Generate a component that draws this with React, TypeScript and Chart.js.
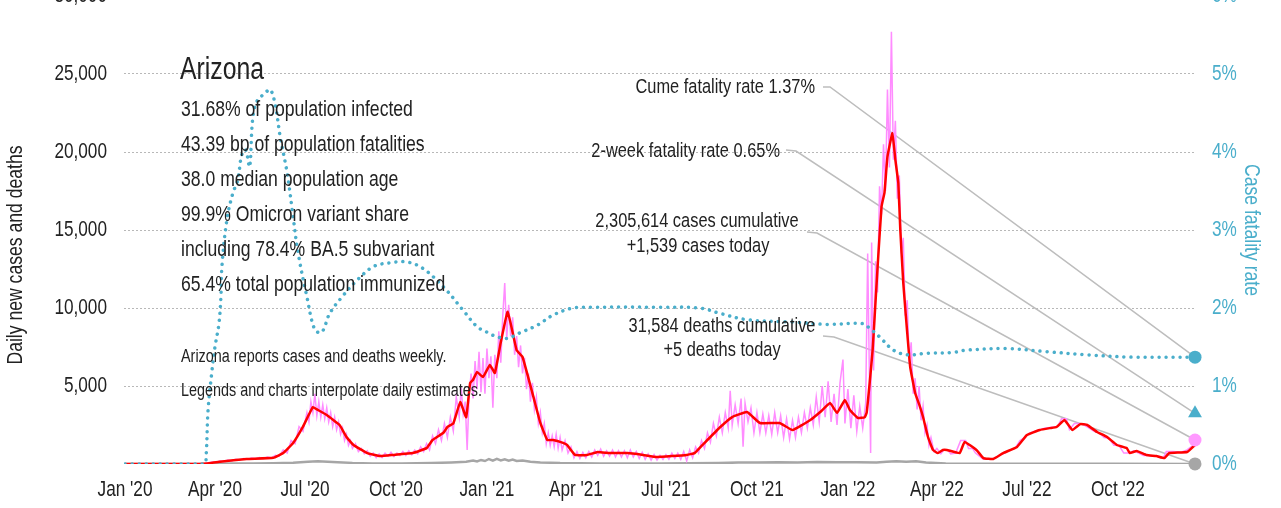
import React, { useEffect, useRef } from "react";
import { Chart, registerables } from "chart.js";
Chart.register(...registerables);

const FONT = "'Liberation Sans', Arial, sans-serif";
const SQUEEZE = 0.8; // horizontal condensing of text
const TEAL = "#4aaecb";
const RED = "#ff0000";
const PINK = "#ff8cff";
const GRAY = "#a6a6a6";
const TEXT = "#222222";
const OFF = 20; // canvas sits 20px above the page top

// x positions are days since 1 Jan 2020
const xTickDays = [0, 91, 182, 274, 366, 456, 547, 639, 731, 821, 912, 1004];
const xTickLabels = ["Jan '20", "Apr '20", "Jul '20", "Oct '20", "Jan '21", "Apr '21", "Jul '21", "Oct '21", "Jan '22", "Apr '22", "Jul '22", "Oct '22"];
const lastDay = 1082;

// 7-day average of new cases
const avgCases: [number, number][] = [[0,0],[75,0],[83,30],[96,150],[123,320],[150,400],[160,700],[170,1350],[180,2400],[190,3650],[194,3500],[204,3140],[217,2500],[224,1730],[231,1220],[245,700],[258,510],[271,580],[291,700],[305,1020],[311,1540],[322,2000],[326,2370],[332,2600],[339,3970],[345,3000],[349,5190],[352,5400],[356,5900],[362,5580],[369,6350],[374,5830],[380,7800],[387,9760],[396,7300],[402,6860],[413,4300],[420,2630],[427,1540],[433,1540],[443,1350],[447,1220],[455,580],[467,580],[478,770],[490,700],[508,700],[524,580],[538,450],[568,580],[576,700],[584,1220],[602,2370],[614,3010],[629,3330],[642,2630],[662,2630],[675,2180],[693,2820],[703,3330],[713,3910],[720,3270],[728,4100],[733,3460],[741,2950],[748,3000],[750,3300],[753,5190],[756,7300],[761,12600],[765,16500],[768,17400],[771,19700],[776,21200],[779,19500],[782,18000],[784,15000],[787,11600],[791,8400],[794,6220],[799,4550],[804,3650],[807,3010],[812,1730],[817,900],[822,700],[827,900],[831,900],[844,700],[849,1410],[861,900],[868,380],[878,320],[888,700],[902,1090],[912,1860],[925,2180],[935,2300],[942,2370],[950,2820],[958,2180],[966,2560],[973,2500],[983,2050],[993,1730],[1003,1220],[1013,1020],[1016,700],[1023,830],[1033,580],[1043,510],[1051,380],[1056,700],[1074,770],[1082,1220]];

// daily reported / interpolated new cases
const rawCases: [number, number][] = [[0,0],[80,0],[84,60],[88,120],[92,90],[96,200],[100,150],[104,250],[108,200],[112,300],[116,260],[120,350],[124,300],[128,380],[132,340],[136,420],[140,360],[144,450],[148,380],[152,550],[156,500],[160,900],[164,700],[168,1500],[172,1300],[176,2400],[180,2100],[184,3300],[186,2700],[188,4000],[190,3300],[192,4500],[194,3100],[196,4000],[198,3000],[200,3800],[202,2900],[204,3600],[206,2700],[208,3300],[210,2400],[212,3000],[214,2200],[216,2700],[218,1900],[220,2300],[222,1500],[224,1900],[226,1200],[228,1500],[230,1000],[233,1300],[236,800],[239,1000],[242,650],[245,850],[248,500],[251,700],[254,400],[257,650],[260,420],[263,700],[266,500],[269,750],[272,480],[275,700],[278,550],[281,800],[284,550],[287,850],[290,600],[293,900],[296,650],[299,1100],[302,800],[305,1300],[308,900],[311,1800],[314,1300],[317,2200],[320,1500],[323,2600],[326,1700],[329,3000],[332,2100],[335,4300],[338,3000],[340,4900],[342,3200],[344,4000],[346,900],[348,4500],[350,5800],[352,4200],[354,6600],[356,4800],[358,7200],[360,4600],[362,6800],[364,4500],[366,7400],[368,5500],[370,6900],[372,3600],[374,7000],[376,5500],[378,8500],[380,6500],[382,9500],[384,11600],[386,8000],[388,10200],[390,8200],[392,9400],[394,7000],[396,8200],[398,6200],[400,7600],[402,5800],[404,6800],[406,4800],[408,5800],[410,4000],[412,5200],[414,3500],[416,4300],[418,2600],[420,3300],[422,2000],[424,2600],[426,1300],[428,2000],[430,1200],[432,1800],[434,1100],[436,1900],[438,1000],[440,1700],[442,900],[445,1500],[448,700],[451,1100],[454,400],[457,800],[460,350],[463,750],[466,400],[469,800],[472,450],[475,900],[478,550],[481,950],[484,500],[487,850],[490,500],[493,900],[496,450],[499,850],[502,450],[505,850],[508,400],[511,900],[514,450],[517,800],[520,350],[523,750],[526,300],[529,650],[532,250],[535,600],[538,250],[541,550],[544,300],[547,600],[550,300],[553,700],[556,350],[559,700],[562,300],[565,800],[568,200],[571,900],[574,400],[577,1100],[580,700],[583,1500],[586,1000],[589,2000],[592,1400],[595,2600],[598,1800],[601,3000],[604,2000],[607,3300],[610,2300],[612,4700],[614,2500],[617,3800],[620,2600],[623,4200],[625,1100],[627,3900],[630,2700],[633,3600],[636,2000],[639,3300],[642,2000],[645,3200],[648,2000],[651,3100],[654,1900],[657,3300],[660,2000],[663,3100],[666,1700],[669,2900],[672,1600],[675,2800],[678,1700],[681,3000],[684,2000],[687,3300],[690,2300],[693,3600],[696,2500],[699,4300],[702,2700],[705,5000],[708,3000],[711,5300],[714,2700],[717,4500],[720,2500],[723,5200],[726,6700],[728,2600],[731,4800],[734,2300],[737,4400],[740,2100],[743,3700],[746,2300],[749,3900],[751,13500],[753,4500],[754,700],[755,14200],[757,6000],[759,13000],[761,11000],[763,17800],[765,16000],[767,20500],[769,17500],[771,24000],[773,19000],[775,27700],[777,19500],[779,22000],[781,17000],[783,18500],[785,13500],[787,14500],[789,9500],[791,10500],[793,6500],[795,7800],[797,4500],[799,5500],[801,3500],[803,5000],[805,2800],[807,3700],[809,2000],[811,2500],[813,1200],[815,1700],[818,800],[821,1000],[825,650],[828,900],[832,900],[835,650],[840,700],[845,1500],[850,1500],[853,1000],[857,1000],[860,700],[864,500],[868,300],[875,300],[880,380],[885,600],[890,700],[895,900],[900,1000],[905,1500],[910,1700],[915,2000],[920,2100],[925,2200],[930,2300],[937,2350],[943,2400],[947,2900],[952,2900],[955,2200],[960,2600],[965,2600],[970,2500],[975,2300],[980,2100],[985,2000],[990,1700],[995,1650],[1000,1200],[1005,1200],[1010,700],[1015,700],[1020,850],[1025,700],[1030,550],[1035,550],[1040,500],[1045,500],[1050,400],[1053,800],[1060,800],[1068,750],[1074,900],[1078,1100],[1082,1300]];

// daily deaths
const deaths: [number, number][] = [[0,0],[80,0],[90,10],[110,30],[130,40],[150,50],[170,80],[185,140],[195,170],[205,150],[215,120],[230,70],[250,40],[280,40],[310,60],[330,100],[345,150],[352,220],[356,160],[360,260],[364,190],[368,320],[372,220],[376,330],[380,230],[384,300],[388,210],[392,280],[396,190],[402,220],[410,150],[420,100],[440,60],[480,40],[540,30],[600,60],[620,90],[640,100],[660,120],[680,100],[700,130],[720,110],[740,120],[760,100],[770,140],[780,170],[790,150],[800,180],[810,90],[830,40],[860,20],[900,15],[1000,10],[1082,5]];

// case fatality rate, percent
const cfr: [number, number][] = [[0,0],[80,0],[82,0.1],[84,0.69],[88,1.2],[91,1.5],[95,1.8],[97,2.14],[98,2.53],[103,3.13],[109,3.47],[114,3.64],[118,3.96],[122,4.03],[126,3.81],[129,4.41],[133,4.64],[142,4.76],[147,4.8],[152,4.6],[157,4.19],[164,3.73],[170,3.17],[175,2.71],[184,2.14],[192,1.72],[199,1.69],[207,1.93],[220,2.15],[235,2.36],[251,2.53],[268,2.58],[285,2.59],[301,2.51],[322,2.27],[342,1.97],[356,1.76],[366,1.69],[372,1.65],[386,1.61],[399,1.68],[417,1.78],[433,1.91],[453,2.0],[473,2.01],[541,2.01],[581,2.0],[602,1.93],[629,1.85],[675,1.82],[710,1.79],[746,1.8],[753,1.74],[763,1.63],[777,1.46],[791,1.40],[811,1.42],[837,1.43],[851,1.46],[892,1.48],[932,1.44],[973,1.40],[1019,1.37],[1082,1.37]];

// end-of-series values
const cumeCfr = 1.37;
const twoWeekCfr = 0.65;
const casesToday = 1539;
const deathsToday = 5;

const stateName = "Arizona";
const statLines = [
  "31.68% of population infected",
  "43.39 bp of population fatalities",
  "38.0 median population age",
  "99.9% Omicron variant share",
  "including 78.4% BA.5 subvariant",
  "65.4% total population immunized",
];
const noteLines = [
  "Arizona reports cases and deaths weekly.",
  "Legends and charts interpolate daily estimates.",
];
const leftTitle = "Daily new cases and deaths";
const rightTitle = "Case fatality rate";

const toXY = (arr: [number, number][]) => arr.map(([x, y]) => ({ x, y }));

function txt(ctx: CanvasRenderingContext2D, s: string, x: number, y: number, size: number, align: CanvasTextAlign, color: string, rot = 0) {
  ctx.save();
  ctx.translate(x, y);
  if (rot) ctx.rotate(rot);
  ctx.scale(SQUEEZE, 1);
  ctx.font = `${size}px ${FONT}`;
  ctx.fillStyle = color;
  ctx.textAlign = align;
  ctx.textBaseline = "middle";
  ctx.fillText(s, 0, 0);
  ctx.restore();
}

export default function App() {
  const ref = useRef<HTMLCanvasElement>(null);
  useEffect(() => {
    document.body.style.margin = "0";

    const overlay = {
      id: "overlay",
      beforeDatasetsDraw(chart: any) {
        const { ctx, scales } = chart;
        const ex = scales.x.getPixelForValue(lastDay);
        const conns = [
          { pts: [[823, 87], [830, 87]], y: scales.y1.getPixelForValue(cumeCfr) },
          { pts: [[786, 150], [796, 151]], y: scales.y1.getPixelForValue(twoWeekCfr) },
          { pts: [[807, 232], [817, 233]], y: scales.y.getPixelForValue(casesToday) },
          { pts: [[823, 336], [834, 337]], y: scales.y.getPixelForValue(deathsToday) },
        ];
        ctx.save();
        ctx.strokeStyle = "#bdbdbd";
        ctx.lineWidth = 1.5;
        for (const c of conns) {
          ctx.beginPath();
          ctx.moveTo(c.pts[0][0], c.pts[0][1] + OFF);
          ctx.lineTo(c.pts[1][0], c.pts[1][1] + OFF);
          ctx.lineTo(ex, c.y);
          ctx.stroke();
        }
        ctx.restore();
      },
      afterDraw(chart: any) {
        const { ctx, scales } = chart;
        // axis tick labels
        for (const t of scales.y.ticks) {
          if (t.value === 0) continue;
          txt(ctx, Number(t.value).toLocaleString("en-US"), 107, scales.y.getPixelForValue(t.value), 21.5, "right", TEXT);
        }
        for (const t of scales.y1.ticks) {
          txt(ctx, `${t.value}%`, 1212, scales.y1.getPixelForValue(t.value), 21.5, "left", TEAL);
        }
        scales.x.ticks.forEach((t: any) => {
          const i = xTickDays.indexOf(t.value);
          if (i >= 0) txt(ctx, xTickLabels[i], scales.x.getPixelForValue(t.value), 490 + OFF, 21.5, "center", TEXT);
        });
        txt(ctx, leftTitle, 16, 255 + OFF, 22, "center", TEXT, -Math.PI / 2);
        txt(ctx, rightTitle, 1251, 230 + OFF, 22, "center", TEAL, Math.PI / 2);

        // state panel
        txt(ctx, stateName, 180, 70 + OFF, 31, "left", TEXT);
        statLines.forEach((s, i) => txt(ctx, s, 181, 110 + i * 35 + OFF, 22, "left", TEXT));
        noteLines.forEach((s, i) => txt(ctx, s, 181, 357 + i * 34 + OFF, 18, "left", TEXT));

        // annotations
        txt(ctx, `Cume fatality rate ${cumeCfr.toFixed(2)}%`, 815, 87 + OFF, 20.5, "right", TEXT);
        txt(ctx, `2-week fatality rate ${twoWeekCfr.toFixed(2)}%`, 780, 151 + OFF, 20.5, "right", TEXT);
        txt(ctx, "2,305,614 cases cumulative", 697, 221 + OFF, 20.5, "center", TEXT);
        txt(ctx, `+${casesToday.toLocaleString("en-US")} cases today`, 698, 246 + OFF, 20.5, "center", TEXT);
        txt(ctx, "31,584 deaths cumulative", 722, 326 + OFF, 20.5, "center", TEXT);
        txt(ctx, `+${deathsToday} deaths today`, 722, 350 + OFF, 20.5, "center", TEXT);
      },
    };

    const marker = (y: number, axis: string, style: string, r: number, color: string) => ({
      data: [{ x: lastDay, y }], yAxisID: axis, pointStyle: style, pointRadius: r,
      pointBackgroundColor: color, pointBorderWidth: 0, showLine: false, clip: false,
    });

    const chart = new Chart(ref.current!, {
      type: "line",
      data: {
        datasets: [
          marker(cumeCfr, "y1", "circle", 6.5, TEAL),
          marker(twoWeekCfr, "y1", "triangle", 8, TEAL),
          marker(casesToday, "y", "circle", 6.5, "#ff99ff"),
          marker(deathsToday, "y", "circle", 6.5, GRAY),
          { data: toXY(cfr), yAxisID: "y1", borderColor: TEAL, borderWidth: 3.5, borderDash: [0.01, 7], borderCapStyle: "round", tension: 0.35, pointRadius: 0 },
          { data: toXY(avgCases), yAxisID: "y", borderColor: RED, borderWidth: 2.5, tension: 0.1, pointRadius: 0 },
          { data: toXY(rawCases), yAxisID: "y", borderColor: PINK, borderWidth: 1.5, tension: 0, pointRadius: 0 },
          { data: toXY(deaths), yAxisID: "y", borderColor: GRAY, borderWidth: 2.5, tension: 0, pointRadius: 0 },
        ] as any,
      },
      options: {
        animation: false,
        responsive: false,
        maintainAspectRatio: false,
        layout: { padding: { top: 16, left: 0, right: 0, bottom: 0 } },
        plugins: { legend: { display: false }, tooltip: { enabled: false } },
        scales: {
          x: {
            type: "linear",
            min: -1,
            max: 1083,
            afterFit: (s: any) => { s.height = 44; },
            afterBuildTicks: (s: any) => { s.ticks = xTickDays.map((v) => ({ value: v })); },
            grid: { display: false },
            border: { display: false },
            ticks: { display: false, autoSkip: false },
          },
          y: {
            position: "left",
            min: 0,
            max: 30000,
            afterFit: (s: any) => { s.width = 124; },
            grid: {
              drawTicks: false,
              color: (c: any) => (c.tick && c.tick.value === 0 ? "rgba(0,0,0,0)" : "#b8b8b8"),
              lineWidth: 1,
            },
            border: { display: false, dash: [2, 2] },
            ticks: { display: false, stepSize: 5000 },
          },
          y1: {
            position: "right",
            min: 0,
            max: 6,
            afterFit: (s: any) => { s.width = 85; },
            grid: { display: false, drawTicks: false },
            border: { display: false },
            ticks: { display: false, stepSize: 1 },
          },
        },
      } as any,
      plugins: [overlay],
    });
    return () => chart.destroy();
  }, []);

  return (
    <div style={{ position: "absolute", left: 0, top: -OFF, width: 1281, height: 528 }}>
      <canvas ref={ref} width={1281} height={528} style={{ display: "block", width: 1281, height: 528 }} />
    </div>
  );
}
